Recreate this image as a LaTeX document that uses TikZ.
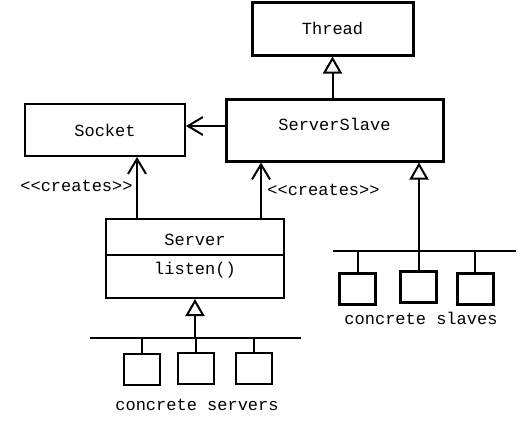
\documentclass[tikz,border=0pt]{standalone}
\usepackage{fontspec}
\setmonofont{Liberation Mono}
\usetikzlibrary{arrows.meta,positioning}

\begin{document}
\begin{tikzpicture}[x=1pt,y=-1pt,font=\ttfamily\fontsize{17}{20}\selectfont,
 cls/.style={draw,line width=2pt,inner sep=0pt},
 clsbold/.style={cls,line width=3pt},
 impl/.style={draw,line width=2pt,minimum width=36pt,minimum height=31pt,inner sep=0pt},
 dep/.style={line width=2pt,-{Straight Barb[length=15pt,width=18pt]}},
 inh/.style={line width=2pt,-{Triangle[open,length=17pt,width=19pt]}}]
\useasboundingbox (0,0) rectangle (526,431);
% classes
\node[clsbold,minimum width=161pt,minimum height=53pt] (thread) at (332.5,28.5) {Thread};
\node[clsbold,minimum width=217pt,minimum height=62pt] (slave) at (334.5,130) {};
\node (slavename) at (334.5,124) {ServerSlave};
\node[cls,minimum width=160pt,minimum height=52pt] (socket) at (105,130) {Socket};
\node[cls,minimum width=178pt,minimum height=79pt] (server) at (195,258.5) {};
\node (servername) at (195,240) {Server};
\node (listen) at (195,270) {listen()};
\draw[line width=2pt] (server.west |- 0,255) -- (server.east |- 0,255);
% associations
\draw[inh] (slave.north -| thread.south) -- (thread.south);
\draw[dep] ([yshift=4pt]slave.west) -- ([yshift=4pt]socket.east);
\draw[dep] (server.north -| 137,0) -- (socket.south -| 137,0);
\draw[dep] (server.north -| 261,0) -- (slave.south -| 261,0);
\node (create1) at (76.5,186) {<<creates>>};
\node (create2) at (323.5,190) {<<creates>>};
% concrete slaves
\coordinate (slavebar) at (419,251);
\draw[line width=2pt] (333,251) -- (516,251);
\draw[inh] (slavebar) -- (slave.south -| slavebar);
\foreach \x/\y [count=\i] in {357.5/288.5,418.5/287,475/288.5}{
 \node[impl,line width=3pt] (cs\i) at (\x,\y) {};
 \draw[line width=2pt] (cs\i.north) -- (cs\i.north |- slavebar);
}
\node (slavetext) at (421,318) {concrete slaves};
% concrete servers
\coordinate (serverbar) at (195,338);
\draw[line width=2pt] (90,338) -- (301,338);
\draw[inh] (serverbar) -- (server.south);
\foreach \x/\y [count=\i] in {142/369.5,195.5/368,254/368}{
 \node[impl] (cv\i) at (\x,\y) {};
 \draw[line width=2pt] (cv\i.north) -- (cv\i.north |- serverbar);
}
\node (servertext) at (197,405) {concrete servers};
\end{tikzpicture}
\end{document}
